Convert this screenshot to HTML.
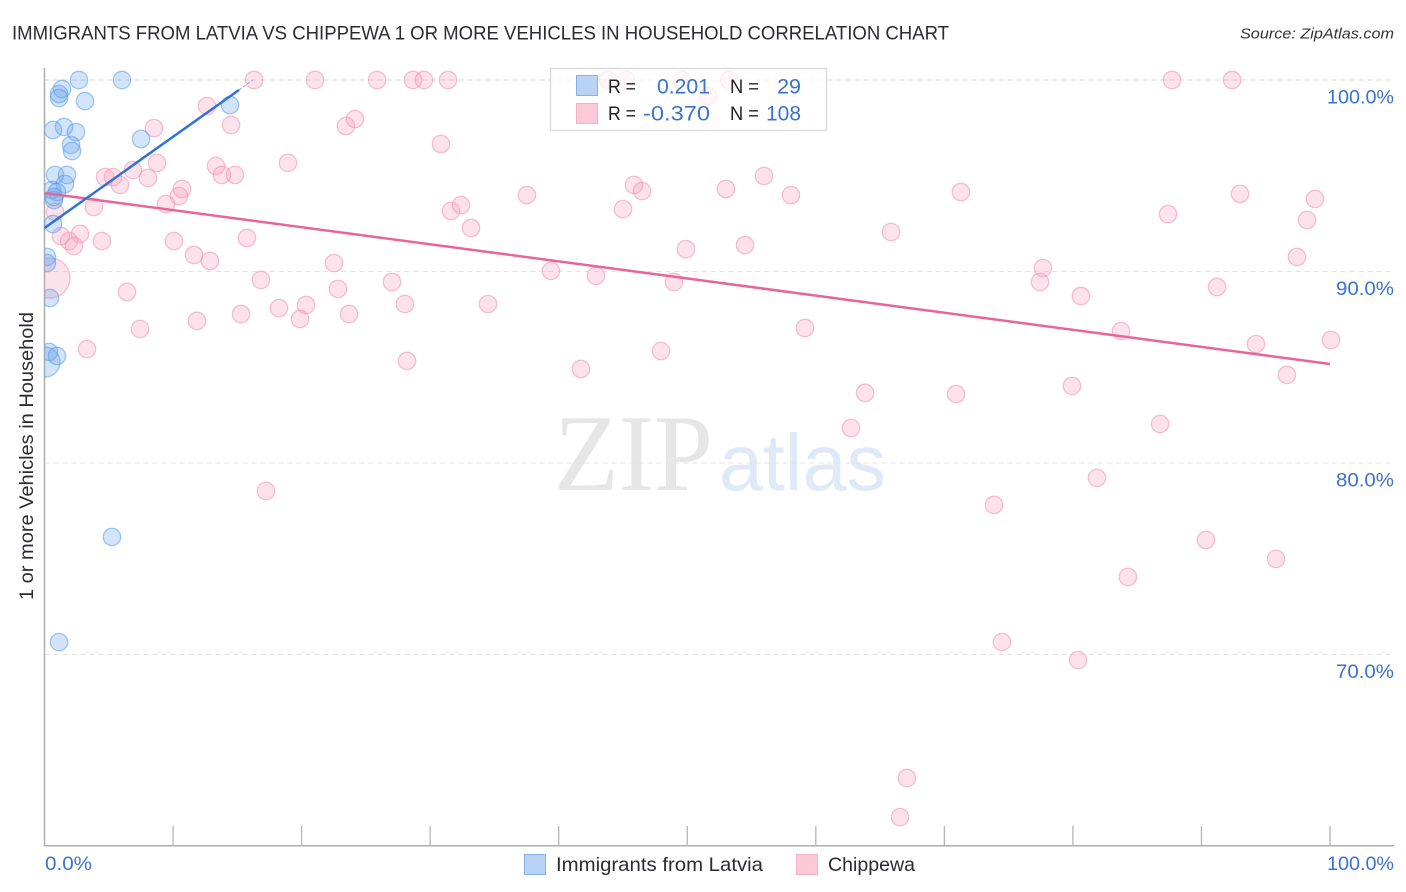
<!DOCTYPE html>
<html lang="en">
<head>
<meta charset="utf-8">
<title>Immigrants from Latvia vs Chippewa correlation chart</title>
<style>
html,body{margin:0;padding:0;background:#fff;}
svg{display:block;font-family:"Liberation Sans",sans-serif;}
</style>
</head>
<body>
<svg id="chart" width="1406" height="892" viewBox="0 0 1406 892" xmlns="http://www.w3.org/2000/svg">
  <defs>
    <clipPath id="plot-clip"><rect x="44.5" y="60" width="1350" height="786"/></clipPath>
  </defs>
  <rect width="1406" height="892" fill="#fff"/>
  <text x="12" y="39.5" font-size="19.5" fill="#2b2b33" textLength="937" lengthAdjust="spacingAndGlyphs">IMMIGRANTS FROM LATVIA VS CHIPPEWA 1 OR MORE VEHICLES IN HOUSEHOLD CORRELATION CHART</text>
  <text x="1394" y="38.5" font-size="15" font-style="italic" fill="#333" text-anchor="end" textLength="154" lengthAdjust="spacingAndGlyphs">Source: ZipAtlas.com</text>
  <g>
    <text x="554" y="490" font-family="'Liberation Serif',serif" font-size="109" fill="#e6e6e6" textLength="159" lengthAdjust="spacingAndGlyphs">ZIP</text>
    <text x="719" y="490" font-size="80" fill="#dfe9f8" textLength="167" lengthAdjust="spacingAndGlyphs">atlas</text>
  </g>
  <g id="grid"></g>
  <g id="axes"></g>
  <g id="points" clip-path="url(#plot-clip)"></g>
  <g id="trends"></g>
  <text transform="translate(33,456) rotate(-90)" font-size="19.5" fill="#2b2b33" text-anchor="middle" textLength="288" lengthAdjust="spacingAndGlyphs">1 or more Vehicles in Household</text>
  <g>
    <rect x="550.5" y="68.5" width="276" height="62" fill="#fff" fill-opacity="0.72" stroke="#dcdcdc" stroke-width="1.5"/>
    <rect x="576.5" y="75.5" width="21" height="20" fill="#b9d3f7" stroke="#86b2e8"/>
    <rect x="576.5" y="103.5" width="21" height="20" fill="#fcc9d9" stroke="#f5b0c8"/>
    <text x="608" y="93" font-size="19.5" fill="#222" textLength="28" lengthAdjust="spacingAndGlyphs">R =</text>
    <text x="657" y="93.5" font-size="21.5" fill="#3b72cf" textLength="53" lengthAdjust="spacingAndGlyphs">0.201</text>
    <text x="730" y="93" font-size="19.5" fill="#222" textLength="29" lengthAdjust="spacingAndGlyphs">N =</text>
    <text x="801" y="93.5" font-size="21.5" fill="#3b72cf" text-anchor="end">29</text>
    <text x="608" y="120" font-size="19.5" fill="#222" textLength="28" lengthAdjust="spacingAndGlyphs">R =</text>
    <text x="643" y="120.5" font-size="21.5" fill="#3b72cf" textLength="67" lengthAdjust="spacingAndGlyphs">-0.370</text>
    <text x="730" y="120" font-size="19.5" fill="#222" textLength="29" lengthAdjust="spacingAndGlyphs">N =</text>
    <text x="766" y="120.5" font-size="21.5" fill="#3b72cf" textLength="35" lengthAdjust="spacingAndGlyphs">108</text>
  </g>
  <g>
    <g>
      <rect x="524.5" y="854.5" width="21" height="20" fill="#b9d3f7" stroke="#86b2e8"/>
      <text x="556" y="871" font-size="19.5" fill="#2b2b33" textLength="207" lengthAdjust="spacingAndGlyphs">Immigrants from Latvia</text>
    </g>
    <g>
      <rect x="796.5" y="854.5" width="21" height="20" fill="#fcc9d9" stroke="#f5b0c8"/>
      <text x="828" y="871" font-size="19.5" fill="#2b2b33" textLength="87" lengthAdjust="spacingAndGlyphs">Chippewa</text>
    </g>
  </g>
</svg>
<script>
const yTickValues = [100, 90, 80, 70];
const yTickLabels = ["100.0%", "90.0%", "80.0%", "70.0%"];
const xTickValues = [10, 20, 30, 40, 50, 60, 70, 80, 90, 100];
const xEndLabels = ["0.0%", "100.0%"];

const latviaX = [2.68,6.03,1.36,1.13,1.13,3.15,0.66,1.52,2.45,7.51,2.06,2.14,0.82,1.75,1.59,0.58,0.97,0.74,0.74,0.66,0.19,0.19,0.43,0.35,0.97,5.25,1.13,14.43];
const latviaY = [100,100,99.53,99.27,99.06,98.90,97.39,97.55,97.28,96.92,96.61,96.29,95.04,95.04,94.57,94.26,94.15,93.89,93.73,92.48,90.76,90.44,88.62,85.80,85.59,76.14,70.65,98.69];
const latviaLargeX = [0.04];
const latviaLargeY = [85.27];

const chippewaX = [16.30,21.04,25.87,28.67,29.52,31.39,43.84,45.24,49.59,53.25,51.61,87.71,92.38,12.64,14.51,8.52,23.45,24.15,30.84,18.94,6.88,8.75,13.34,4.71,5.33,5.87,8.05,13.81,14.82,10.70,10.46,9.45,3.85,0.82,1.28,2.76,1.91,2.29,4.47,10.07,11.63,12.87,15.75,6.42,16.84,18.24,20.34,19.88,11.86,15.29,7.43,3.31,22.52,22.83,23.69,27.03,28.04,28.20,34.50,31.62,32.40,33.18,37.53,39.40,42.90,41.73,45.00,45.86,46.48,49.90,48.97,47.96,53.01,54.49,55.97,58.07,59.16,63.83,62.74,65.85,70.91,71.29,73.86,74.48,77.44,77.67,79.93,80.63,80.40,81.87,83.74,84.28,86.78,87.40,91.21,90.35,93.00,94.24,95.80,96.65,97.43,98.21,98.83,100.08,67.09,66.55,17.23];
const chippewaY = [100,100,100,100,100,100,100,100,100,100,99.16,100,100,98.64,97.65,97.49,97.60,97.96,96.66,95.67,95.30,95.67,95.51,94.93,94.93,94.52,94.88,95.04,95.04,94.31,93.94,93.52,93.37,93.11,91.85,91.96,91.59,91.33,91.59,91.59,90.86,90.55,91.75,88.93,89.56,88.09,88.25,87.52,87.42,87.78,87.00,85.95,90.44,89.09,87.78,89.45,88.30,85.33,88.30,93.16,93.47,92.27,93.99,90.03,89.77,84.91,93.26,94.52,94.20,91.17,89.45,85.85,94.31,91.38,94.99,93.99,87.05,83.66,81.83,92.06,83.60,94.15,77.81,70.65,89.45,90.18,84.02,88.72,69.71,79.22,86.89,74.05,82.04,93.00,89.19,75.98,94.05,86.21,74.99,84.60,90.76,92.69,93.79,86.42,63.55,61.51,78.54];
const chippewaLargeX = [0.43];
const chippewaLargeY = [89.66];

const latviaTrendX = [0, 15.13];
const latviaTrendY = [92.27, 99.48];
const latviaTrendExtendX = [15.13, 16.2];
const latviaTrendExtendY = [99.48, 100];
const chippewaTrendX = [0, 100];
const chippewaTrendY = [94.10, 85.17];

const NS = "http://www.w3.org/2000/svg";
function xScale(v){ return 44.5 + v * 12.855; }
function yScale(v){ return 80 + (100 - v) * 19.15; }
function make(tag, attrs, parent){
  const el = document.createElementNS(NS, tag);
  for (const k in attrs) el.setAttribute(k, attrs[k]);
  parent.appendChild(el);
  return el;
}

const gridGroup = document.getElementById("grid");
const axesGroup = document.getElementById("axes");
const pointsGroup = document.getElementById("points");
const trendsGroup = document.getElementById("trends");

yTickValues.forEach(function(v, i){
  const line = make("line", {x1:44.5, x2:1394, y1:yScale(v), y2:yScale(v), stroke: i === 0 ? "#d4d4d4" : "#e2e2e2", "stroke-width":1, "stroke-dasharray":"5 4"}, gridGroup);
  
  
  const label = make("text", {x:1394, y:yScale(v) + 23.5, "font-size":19.5, fill:"#3b72cf", "text-anchor":"end", textLength: i === 0 ? 67 : 58, lengthAdjust:"spacingAndGlyphs"}, axesGroup);
  label.textContent = yTickLabels[i];
  
  
});

const yAxisLine = make("line", {x1:44.5, x2:44.5, y1:68, y2:846, stroke:"#adadad", "stroke-width":1.5}, axesGroup);


const xAxisLine = make("line", {x1:44, x2:1394, y1:845.8, y2:845.8, stroke:"#adadad", "stroke-width":1.5}, axesGroup);



xTickValues.forEach(function(v){
  const tick = make("line", {x1:xScale(v), x2:xScale(v), y1:826, y2:846, stroke:"#b5b5b5", "stroke-width":1.3}, axesGroup);
  
  
});

const xLabelStart = make("text", {x:45, y:870, "font-size":19.5, fill:"#3b72cf", textLength:47, lengthAdjust:"spacingAndGlyphs"}, axesGroup);
xLabelStart.textContent = xEndLabels[0];


const xLabelEnd = make("text", {x:1394, y:870, "font-size":19.5, fill:"#3b72cf", "text-anchor":"end", textLength:67, lengthAdjust:"spacingAndGlyphs"}, axesGroup);
xLabelEnd.textContent = xEndLabels[1];



function drawPoints(xs, ys, radius, fill, stroke, pointName){
  xs.forEach(function(x, i){
    const c = make("circle", {cx:xScale(x), cy:yScale(ys[i]), r:radius, fill:fill, "fill-opacity":0.3, stroke:stroke, "stroke-opacity":0.55, "stroke-width":1.3}, pointsGroup);
    
    
  });
}
const pinkFill = "#f8a0bc", pinkStroke = "#ef8fae", blueFill = "#6ba6ec", blueStroke = "#5a9ae6";
drawPoints(chippewaLargeX, chippewaLargeY, 20, pinkFill, pinkStroke, "chippewa-point-large");
drawPoints(chippewaX, chippewaY, 8.7, pinkFill, pinkStroke, "chippewa-point");
drawPoints(latviaLargeX, latviaLargeY, 15, blueFill, blueStroke, "latvia-point-large");
drawPoints(latviaX, latviaY, 8.7, blueFill, blueStroke, "latvia-point");

function drawTrend(xs, ys, color, width, dash, name){
  const attrs = {x1:xScale(xs[0]), y1:yScale(ys[0]), x2:xScale(xs[1]), y2:yScale(ys[1]), stroke:color, "stroke-width":width};
  if (dash) attrs["stroke-dasharray"] = dash;
  const l = make("line", attrs, trendsGroup);
  
  
}
drawTrend(chippewaTrendX, chippewaTrendY, "#e8659a", 2.5, null, "chippewa-trend-line");
drawTrend(latviaTrendX, latviaTrendY, "#2f72d8", 2.5, null, "latvia-trend-line");
drawTrend(latviaTrendExtendX, latviaTrendExtendY, "#7fa9e6", 1, "3 2", "latvia-trend-extension");
</script>
</body>
</html>
